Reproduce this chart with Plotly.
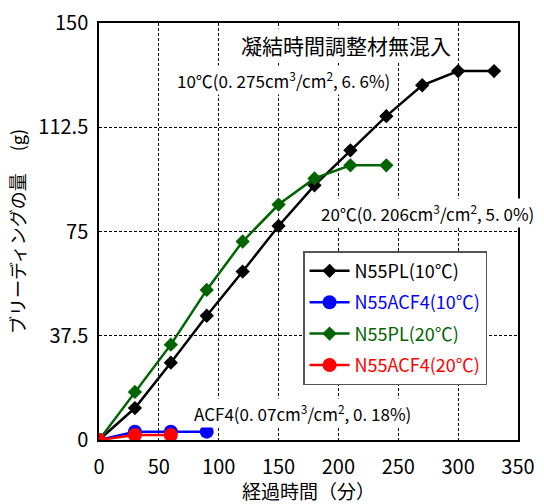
import plotly.graph_objects as go

# Data
t_pl10 = [0, 30, 60, 90, 120, 150, 180, 210, 240, 270, 300, 330]
pl10 = [0, 11.5, 27.8, 44.7, 60.6, 77.0, 91.6, 104.2, 116.5, 127.6, 132.7, 132.7]
t_acf10 = [0, 30, 60, 90]
acf10 = [0, 3.0, 3.0, 3.0]
t_pl20 = [0, 30, 60, 90, 120, 150, 180, 210, 240]
pl20 = [0, 17.3, 34.3, 54.0, 71.4, 84.7, 94.1, 98.8, 98.8]
t_acf20 = [0, 30, 60]
acf20 = [0, 1.8, 1.8]

names = ["N55PL(10℃)", "N55ACF4(10℃)", "N55PL(20℃)", "N55ACF4(20℃)"]
colors = ["#000000", "#0000ff", "#006400", "#ff0000"]
xtick_vals = [0, 50, 100, 150, 200, 250, 300, 350]
ytick_vals = [0, 37.5, 75, 112.5, 150]
ytick_text = ["0", "37.5", "75", "112.5", "150"]

FONT = "Noto Sans CJK JP"

fig = go.Figure()
series = [
    (t_pl10, pl10, "diamond", 11),
    (t_acf10, acf10, "circle", 14),
    (t_pl20, pl20, "diamond", 11),
    (t_acf20, acf20, "circle", 14),
]
for i, ((xs, ys, sym, sz), name, c) in enumerate(zip(series, names, colors)):
    fig.add_trace(go.Scatter(
        x=xs, y=ys, mode="lines+markers",
        name=f"<span style='color:{c}'>{name}</span>",
        legendgroup=f"g{i}",
        line=dict(color=c, width=2.5),
        marker=dict(symbol=sym, size=sz, color=c),
    ))

axis_common = dict(
    showline=True, linecolor="black", linewidth=1.5, mirror=True,
    showgrid=True, gridcolor="black", griddash="3px,2px", gridwidth=1,
    zeroline=False, ticks="", tickfont=dict(family=FONT, size=20, color="black"),
)
fig.update_xaxes(range=[0, 350], tickvals=xtick_vals, ticklabelstandoff=8, automargin=False, **axis_common,
                 title=dict(text="経過時間（分）", font=dict(family=FONT, size=19, color="black"), standoff=2))
fig.update_yaxes(range=[0, 150], tickvals=ytick_vals, ticktext=ytick_text, ticklabelstandoff=5,
                 automargin=False, **axis_common,
                 title=dict(text="ブリーディングの量　 (g)", font=dict(family=FONT, size=18, color="black"), standoff=8))

ann_font = dict(family=FONT, size=17, color="black")
common = dict(xref="paper", yref="paper", xanchor="center", yanchor="middle",
              showarrow=False, bgcolor="white")
fig.add_annotation(x=0.589, y=0.947, text="凝結時間調整材無混入",
                   font=dict(family=FONT, size=21, color="black"), **common)
fig.add_annotation(x=0.441, y=0.863,
                   text="10℃(0. 275cm<sup>3</sup>/cm<sup>2</sup>, 6. 6%)",
                   font=ann_font, **common)
fig.add_annotation(x=0.785, y=0.544,
                   text="20℃(0. 206cm<sup>3</sup>/cm<sup>2</sup>, 5. 0%)",
                   font=ann_font, **common)
fig.add_annotation(x=0.485, y=0.065,
                   text="ACF4(0. 07cm<sup>3</sup>/cm<sup>2</sup>, 0. 18%)",
                   font=ann_font, **common)

fig.update_layout(
    width=544, height=504,
    margin=dict(l=99, r=26, t=23, b=64),
    plot_bgcolor="white", paper_bgcolor="white",
    showlegend=True,
    legend=dict(x=0.487, y=0.453, xanchor="left", yanchor="top",
                bgcolor="white", bordercolor="#555555", borderwidth=1.5,
                font=dict(family=FONT, size=18), itemwidth=40, tracegroupgap=5),
    font=dict(family=FONT),
)
fig.write_html("out.html")
